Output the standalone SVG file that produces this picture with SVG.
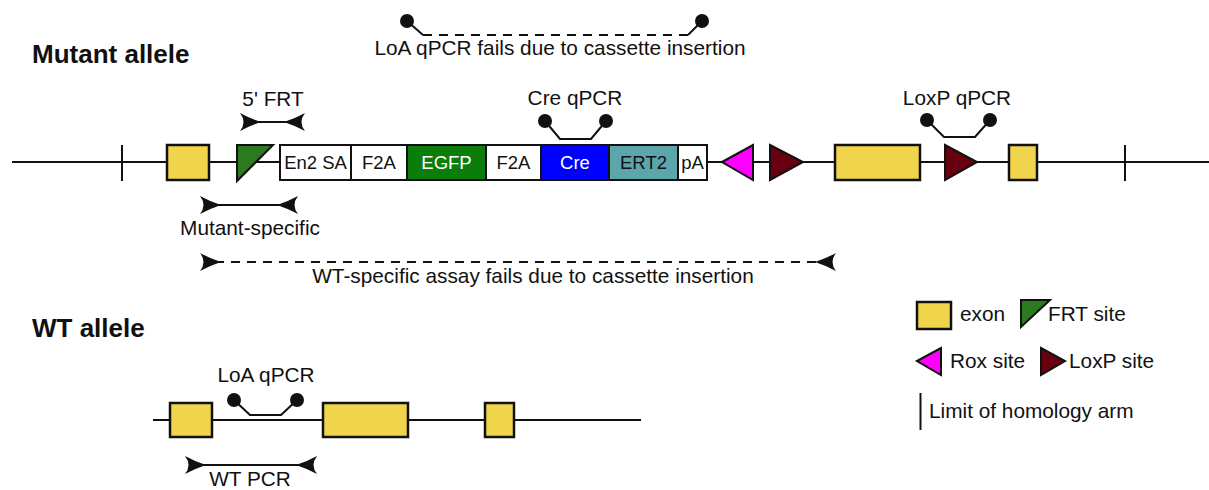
<svg xmlns="http://www.w3.org/2000/svg" xmlns:xlink="http://www.w3.org/1999/xlink" width="1209" height="490" viewBox="0 0 1209 490">
<style>
text{font-family:"Liberation Sans",Arial,sans-serif;font-size:20.8px;fill:#111}
.title{font-weight:bold;font-size:26px}
.box{font-size:18.5px}
.w{fill:#fff}
.ln{stroke:#111;stroke-width:2;fill:none}
.exon{fill:#F0D44C;stroke:#111;stroke-width:2.5}
.cas{stroke:#111;stroke-width:2}
.frt{fill:#2C7A1E;stroke:#111;stroke-width:2}
.rox{fill:#FF00FF;stroke:#111;stroke-width:2}
.loxp{fill:#680010;stroke:#111;stroke-width:2}
.dash{stroke-dasharray:9 7}
.dot{fill:#111}
</style>
<defs>
<path id="hd" d="M0,0 Q-12,-4 -21,-9 Q-14,0 -21,9 Q-12,4 0,0 Z" fill="#111"/>
</defs>

<g id="titles">
<text class="title" x="32" y="63">Mutant allele</text>
<text class="title" x="32" y="337">WT allele</text>
</g>

<g id="connectors">
<line class="ln" x1="12" y1="162" x2="1209" y2="162"/>
<line class="ln" x1="122" y1="145" x2="122" y2="181"/>
<line class="ln" x1="1125" y1="145" x2="1125" y2="181"/>
<line class="ln" x1="153" y1="420" x2="641" y2="420"/>
</g>

<g id="mutant-exon1"><rect class="exon" x="167" y="145" width="42" height="35"/></g>
<g id="mutant-frt"><polygon class="frt" points="237,145 273,145 237,181"/></g>
<g id="cassette">
<rect class="cas" x="280" y="145" width="71" height="35" fill="#fff"/>
<text class="box" x="315.5" y="169" text-anchor="middle">En2 SA</text>
<rect class="cas" x="351" y="145" width="56" height="35" fill="#fff"/>
<text class="box" x="379" y="169" text-anchor="middle">F2A</text>
<rect class="cas" x="407" y="145" width="79" height="35" fill="#0B7D0B"/>
<text class="box w" x="446.5" y="169" text-anchor="middle">EGFP</text>
<rect class="cas" x="486" y="145" width="55" height="35" fill="#fff"/>
<text class="box" x="513.5" y="169" text-anchor="middle">F2A</text>
<rect class="cas" x="541" y="145" width="68" height="35" fill="#0000FF"/>
<text class="box w" x="575" y="169" text-anchor="middle">Cre</text>
<rect class="cas" x="609" y="145" width="69" height="35" fill="#5CA5AA"/>
<text class="box" x="643.5" y="169" text-anchor="middle" fill="#eef">ERT2</text>
<rect class="cas" x="678" y="145" width="29" height="35" fill="#fff"/>
<text class="box" x="692.5" y="169" text-anchor="middle">pA</text>
</g>
<g id="mutant-rox"><polygon class="rox" points="722,162 753,145 753,180"/></g>
<g id="mutant-loxp1"><polygon class="loxp" points="770,145 803,162 770,180"/></g>
<g id="mutant-exon2"><rect class="exon" x="835" y="145" width="85" height="35"/></g>
<g id="mutant-loxp2"><polygon class="loxp" points="945,145 977,162 945,180"/></g>
<g id="mutant-exon3"><rect class="exon" x="1009" y="145" width="28" height="35"/></g>

<g id="loa-fail">
<circle class="dot" cx="407" cy="21" r="7"/>
<circle class="dot" cx="702" cy="21" r="7"/>
<path class="ln" d="M407,21 L423,35"/>
<path class="ln" d="M702,21 L688,35"/>
<line class="ln dash" x1="423" y1="35" x2="688" y2="35"/>
<text x="560" y="55" text-anchor="middle">LoA qPCR fails due to cassette insertion</text>
</g>

<g id="frt-pcr">
<text x="273" y="106" text-anchor="middle">5' FRT</text>
<line class="ln" x1="250" y1="122" x2="296" y2="122"/>
<use xlink:href="#hd" transform="translate(261,122)"/>
<use xlink:href="#hd" transform="translate(284,122) scale(-1,1)"/>
</g>

<g id="cre-qpcr">
<text x="575" y="105" text-anchor="middle">Cre qPCR</text>
<circle class="dot" cx="545" cy="121" r="7"/>
<circle class="dot" cx="606" cy="121" r="7"/>
<path class="ln" d="M545,121 L560,139 L591,139 L606,121"/>
</g>

<g id="loxp-qpcr">
<text x="957" y="105" text-anchor="middle">LoxP qPCR</text>
<circle class="dot" cx="927" cy="120" r="7"/>
<circle class="dot" cx="990" cy="120" r="7"/>
<path class="ln" d="M927,120 L944,137 L975,137 L990,120"/>
</g>

<g id="mutant-specific">
<line class="ln" x1="210" y1="205" x2="288" y2="205"/>
<use xlink:href="#hd" transform="translate(221,205)"/>
<use xlink:href="#hd" transform="translate(277,205) scale(-1,1)"/>
<text x="250" y="235" text-anchor="middle">Mutant-specific</text>
</g>

<g id="wt-fail">
<line class="ln dash" x1="215" y1="262" x2="822" y2="262"/>
<use xlink:href="#hd" transform="translate(221,262)"/>
<use xlink:href="#hd" transform="translate(815,262) scale(-1,1)"/>
<text x="533" y="283" text-anchor="middle">WT-specific assay fails due to cassette insertion</text>
</g>

<g id="wt-exon1"><rect class="exon" x="170" y="403" width="42" height="34"/></g>
<g id="wt-exon2"><rect class="exon" x="323" y="403" width="85" height="34"/></g>
<g id="wt-exon3"><rect class="exon" x="485" y="403" width="29" height="34"/></g>

<g id="loa-qpcr">
<text x="266" y="382" text-anchor="middle">LoA qPCR</text>
<circle class="dot" cx="234" cy="400" r="7"/>
<circle class="dot" cx="297" cy="400" r="7"/>
<path class="ln" d="M234,400 L250,415 L281,415 L297,400"/>
</g>

<g id="wt-pcr">
<line class="ln" x1="195" y1="465" x2="307" y2="465"/>
<use xlink:href="#hd" transform="translate(206,465)"/>
<use xlink:href="#hd" transform="translate(296,465) scale(-1,1)"/>
<text x="250" y="486" text-anchor="middle">WT PCR</text>
</g>

<g id="legend">
<rect class="exon" x="917" y="302" width="34" height="27"/>
<text x="960" y="321">exon</text>
<polygon class="frt" points="1021,300 1050,300 1021,327"/>
<text x="1048" y="321">FRT site</text>
<polygon class="rox" points="917,361 941,348 941,375"/>
<text x="950" y="368">Rox site</text>
<polygon class="loxp" points="1041,348 1065,361 1041,375"/>
<text x="1069" y="368">LoxP site</text>
<line class="ln" x1="920.5" y1="393" x2="920.5" y2="430" stroke-width="1.5"/>
<text x="929" y="418">Limit of homology arm</text>
</g>
</svg>
